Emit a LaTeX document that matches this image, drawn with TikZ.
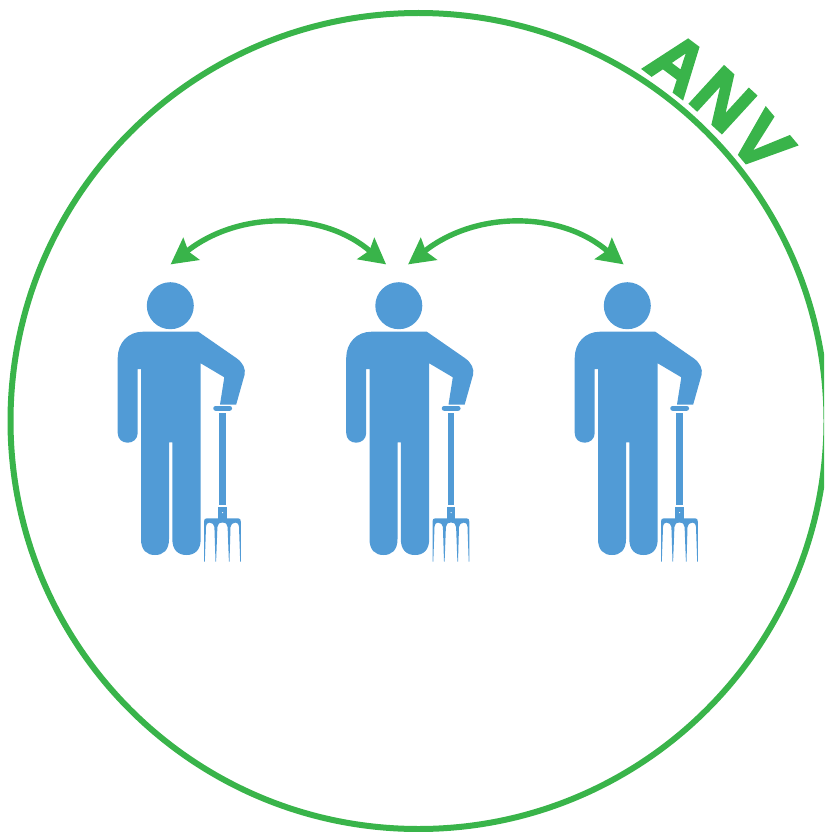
\documentclass[tikz,border=0pt]{standalone}
\usepackage{fontspec}
\setmainfont{Liberation Sans}
\newfontfamily\anvfont[BoldFeatures={FakeBold=3.5}]{Liberation Sans}
\definecolor{anvgreen}{HTML}{39B44A}
\definecolor{farmblue}{HTML}{519BD6}
\tikzset{
  x=1pt,y=-1pt,
  farmer/.pic={
    % head
    \fill[farmblue] (170.3,305.7) circle[radius=23.5];
    % body with hanging arm, bent arm and legs
    \fill[farmblue] (143,331.7) -- (198.3,331.7) -- (236.7,358.3)
      .. controls (243,363) and (246,369) .. (244.5,375)
      -- (236.2,404.5) -- (220,404.5) -- (224.3,377.3) -- (200.7,363.3)
      -- (200.7,539) .. controls (200.7,550) and (195,555) .. (186.5,555)
      .. controls (178,555) and (172.3,550) .. (172.3,539)
      -- (172.3,442.3) -- (169,442.3) -- (169,539)
      .. controls (169,550) and (163.5,555) .. (155,555)
      .. controls (146.5,555) and (141,550) .. (141,539)
      -- (141,369) -- (137.7,369) -- (137.7,433)
      .. controls (137.7,439) and (133,442.7) .. (127.7,442.7)
      .. controls (122,442.7) and (117.7,439) .. (117.7,433)
      -- (117.7,358) .. controls (117.7,343) and (128,331.7) .. (143,331.7) -- cycle;
    % fork grip and handle
    \fill[farmblue,rounded corners=2.2] (213.3,406) rectangle (232,410.8);
    \fill[farmblue] (219.4,413) rectangle (225.6,505);
    % socket
    \fill[farmblue] (218.3,506.7) rectangle (226.7,519);
    \fill[white] (222.6,512.6) circle[radius=0.7];
    % crossbar and tines
    \fill[farmblue] (204,561.7) -- (204,521.5) .. controls (204,519.3) and (205,518.3) .. (207,518.3)
      -- (238,518.3) .. controls (240,518.3) and (240.8,519.3) .. (240.8,521.5)
      -- (240.8,561.7) -- (240.2,561.7) -- (239,527)
      .. controls (238.6,523.5) and (237,522.6) .. (235.3,522.6)
      .. controls (232.5,522.6) and (231,524.5) .. (230.5,527)
      -- (229.5,561.7) -- (228.9,561.7) -- (227.6,527)
      .. controls (227,524) and (226,522.6) .. (222.5,522.6)
      .. controls (219,522.6) and (218,524) .. (217.4,527)
      -- (216.1,561.7) -- (215.5,561.7) -- (214.4,527)
      .. controls (214,524.5) and (212.5,522.6) .. (209.5,522.6)
      .. controls (208,522.6) and (206.4,523.5) .. (206,527)
      -- (204.8,561.7) -- cycle;
  },
  swoop/.pic={
    \draw[anvgreen,line width=5.4] (186,252) .. controls (240,209) and (326,212) .. (371,252);
    \fill[anvgreen] (170.7,264.3) -- (183.3,237.3) -- (188.5,251.5) -- (200,260) -- cycle;
    \fill[anvgreen] (386,264.3) -- (374.3,237.3) -- (369.5,250.5) -- (356.7,259.3) -- cycle;
  },
  anvletter/.style={inner sep=0pt,text=anvgreen,font=\fontsize{73}{73}\anvfont\bfseries}
}
\begin{document}
\begin{tikzpicture}
\useasboundingbox (0,0) rectangle (824,832);
\begin{scope}
\clip (0,0) rectangle (824,832);
\draw[anvgreen,line width=6] (418.5,421) circle[radius=408];
\end{scope}
\pic at (0,0) {farmer};
\pic at (228.5,0) {farmer};
\pic at (457,0) {farmer};
\pic at (0,0) {swoop};
\pic at (237.5,0) {swoop};
\node[anvletter,rotate=-37] (a) at (678,63.7) {A};
\node[anvletter,rotate=-42.5] (n) at (723,99.7) {N};
\node[anvletter,rotate=-50] (v) at (762,142.7) {V};
\end{tikzpicture}
\end{document}
